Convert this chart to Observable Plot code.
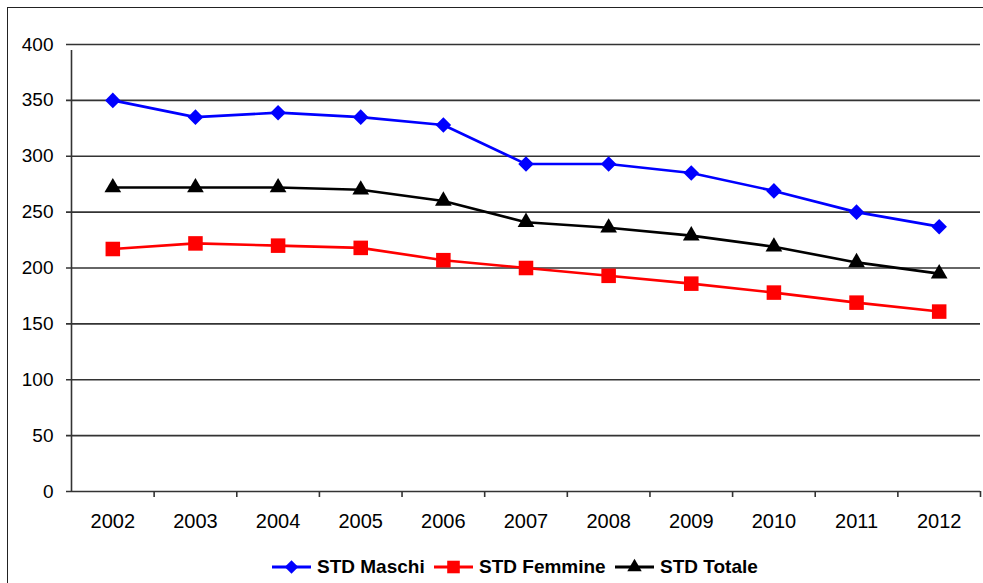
<!DOCTYPE html>
<html>
<head>
<meta charset="utf-8">
<script src="https://cdn.jsdelivr.net/npm/d3@7"></script>
<script src="https://cdn.jsdelivr.net/npm/@observablehq/plot@0.6"></script>
<style>
  html, body { margin: 0; padding: 0; background: #fff; overflow: hidden; }
  #wrap { position: relative; width: 983px; height: 583px; }
  #border { position: absolute; left: 7px; top: 7px; width: 990px; height: 600px; border-left: 1px solid #222; border-top: 1px solid #222; pointer-events: none; }
  #legend { position: absolute; left: 0; top: 554px; width: 983px; height: 26px; font-family: "Liberation Sans", Arial, sans-serif; font-size: 19px; font-weight: bold; color: #000; }
  .item { position: absolute; top: 0; display: flex; align-items: center; height: 26px; }
  .item svg { margin-right: 6px; }
</style>
</head>
<body>
<div id="wrap">
  <div id="chart"></div>
  <div id="legend"></div>
  <div id="border"></div>
</div>
<script>
const years = ["2002","2003","2004","2005","2006","2007","2008","2009","2010","2011","2012"];
const maschi  = [350, 335, 339, 335, 328, 293, 293, 285, 269, 250, 237];
const femmine = [217, 222, 220, 218, 207, 200, 193, 186, 178, 169, 161];
const totale  = [272, 272, 272, 270, 260, 241, 236, 229, 219, 205, 195];
const yTicks = [0, 50, 100, 150, 200, 250, 300, 350, 400];
const seriesNames = ["STD Maschi", "STD Femmine", "STD Totale"];
const seriesColors = ["#0000FF", "#FF0000", "#000000"];
const seriesSymbols = ["diamond2", "square", "triangle"];
const seriesR = [7, 8.2, 6.2];

const seriesValues = [maschi, femmine, totale];
const data = [];
seriesNames.forEach((name, s) => {
  years.forEach((yr, i) => data.push({series: name, year: yr, value: seriesValues[s][i]}));
});

const W = 983, H = 583, mL = 71, mR = 3, mT = 44, mB = 92;
const bw = (W - mL - mR) / years.length;
const font = '"Liberation Sans", Arial, sans-serif';

const marks = [
  Plot.ruleY(yTicks, {y: d => d, stroke: "#333", strokeWidth: 1.6, insetLeft: -5}),
  // y axis line
  Plot.ruleX([years[0]], {x: d => d, y1: 0, y2: 400, dx: -bw / 2, stroke: "#333", strokeWidth: 1.6, insetBottom: -6}),
  // category boundary ticks
  Plot.ruleX(years.slice(1), {x: d => d, y1: 0, y2: 0, dx: -bw / 2, stroke: "#333", strokeWidth: 1.6, insetBottom: -6}),
  Plot.ruleX([years[years.length - 1]], {x: d => d, y1: 0, y2: 0, dx: bw / 2, stroke: "#333", strokeWidth: 1.6, insetBottom: -6}),
  Plot.axisY({ticks: yTicks, tickSize: 0, tickPadding: 18, fontSize: 19, fontFamily: font, fill: "#000", label: null}),
  Plot.axisX({tickSize: 0, tickPadding: 22, fontSize: 20, fontFamily: font, fill: "#000", label: null})
];
seriesNames.forEach((name, s) => {
  const d = data.filter(r => r.series === name);
  marks.push(Plot.line(d, {x: "year", y: "value", stroke: seriesColors[s], strokeWidth: 2.6}));
  marks.push(Plot.dot(d, {x: "year", y: "value", symbol: () => seriesSymbols[s], r: seriesR[s], fill: seriesColors[s], stroke: "none"}));
});

const chart = Plot.plot({
  width: W, height: H,
  marginLeft: mL, marginRight: mR, marginTop: mT, marginBottom: mB,
  x: {type: "band", domain: years, padding: 0, round: false, axis: null},
  y: {domain: [0, 400], axis: null},
  symbol: {type: "identity"},
  style: {background: "#fff", fontFamily: font, overflow: "visible"},
  marks
});
document.getElementById("chart").appendChild(chart);

// legend
const legend = document.getElementById("legend");
const legendLeft = [272, 434, 615];
seriesNames.forEach((name, s) => {
  const item = document.createElement("div");
  item.className = "item";
  item.style.left = legendLeft[s] + "px";
  const sym = d3.symbol(
    seriesSymbols[s] === "diamond2" ? d3.symbolDiamond2 : seriesSymbols[s] === "square" ? d3.symbolSquare : d3.symbolTriangle,
    Math.PI * seriesR[s] * seriesR[s] * 0.75
  )();
  item.innerHTML = `<svg width="39" height="20" viewBox="0 0 39 20"><line x1="0" x2="39" y1="10" y2="10" stroke="${seriesColors[s]}" stroke-width="3"/><path transform="translate(19.5,10)" d="${sym}" fill="${seriesColors[s]}"/></svg><span>${name}</span>`;
  legend.appendChild(item);
});
</script>
</body>
</html>
